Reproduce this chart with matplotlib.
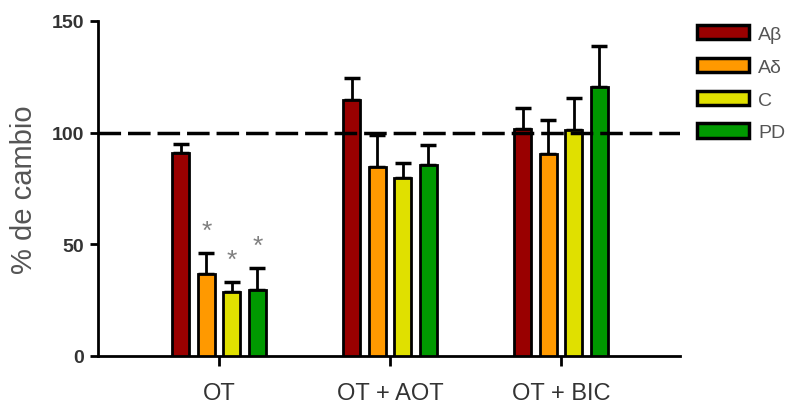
import numpy as np
import matplotlib
matplotlib.use("Agg")
import matplotlib.pyplot as plt
from matplotlib.patches import Patch

plt.rcParams['font.family'] = ['Liberation Sans', 'DejaVu Sans']

groups = ["OT", "OT + AOT", "OT + BIC"]
series = ["Aβ", "Aδ", "C", "PD"]
colors = ["#990000", "#FF9900", "#E0E000", "#009900"]
values = {
    "Aβ": [91, 114.5, 101.5],
    "Aδ": [36.5, 84.5, 90.5],
    "C":  [28.5, 79.5, 101],
    "PD": [29.5, 85.5, 120.5],
}
errors = {
    "Aβ": [4, 10, 9.5],
    "Aδ": [9.5, 14.5, 15],
    "C":  [4.5, 7, 14.5],
    "PD": [10, 9, 18.5],
}
# significance marks: (series, group index)
stars = [("Aδ", 0), ("C", 0), ("PD", 0)]
yticks = [0, 50, 100, 150]
reference_level = 100

fig = plt.figure(figsize=(7.89, 4.06), dpi=100)
W, H = 789, 406
ax = fig.add_axes([98 / W, (406 - 357) / H, 582 / W, 335 / H])

x = np.arange(len(groups))
step = 0.149
width = 0.1
offsets = (np.arange(len(series)) - 1.5) * step

for i, s in enumerate(series):
    ax.bar(x + offsets[i], values[s], width, color=colors[i], edgecolor="black",
           linewidth=2, zorder=3)
    ax.errorbar(x + offsets[i], values[s], yerr=[np.zeros(len(groups)), errors[s]],
                fmt="none", ecolor="black", elinewidth=2, capsize=5.8, capthick=2.5,
                zorder=2)

for s, g in stars:
    i = series.index(s)
    ax.text(x[g] + offsets[i], values[s][g] + errors[s][g] + 10, "*",
            ha="center", va="center", fontsize=19, color="#808080")

ax.axhline(reference_level, color="black", lw=2.5, dashes=(6.5, 2), zorder=4)

ax.set_xlim(-0.708, 2.696)
ax.set_ylim(0, 150)
ax.set_yticks(yticks)
ax.set_xticks(x)
ax.set_xticklabels(groups, fontsize=17, color="#333333")
for lab in ax.get_yticklabels():
    lab.set_fontweight("bold")
ax.tick_params(axis="y", labelsize=14, labelcolor="#333333", width=2, length=6, pad=4)
ax.tick_params(axis="x", width=2, length=7, pad=12)
for sp in ["top", "right"]:
    ax.spines[sp].set_visible(False)
for sp in ["left", "bottom"]:
    ax.spines[sp].set_linewidth(2)
ax.set_ylabel("% de cambio", fontsize=21, color="#555555", labelpad=10)

handles = [Patch(facecolor=c, edgecolor="black", linewidth=2.5) for c in colors]
fig.legend(handles, series, loc="upper left",
           bbox_to_anchor=(697 / W, 1 - 26 / H), frameon=False, fontsize=14,
           handlelength=2.65, handleheight=0.77, handletextpad=0.5,
           labelspacing=0.76, borderpad=0, borderaxespad=0, labelcolor="#555555")

fig.savefig("out.png", dpi=100)
